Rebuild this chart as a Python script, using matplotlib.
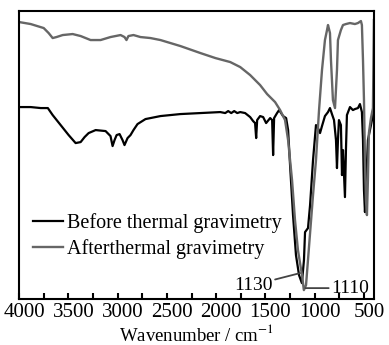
import matplotlib.pyplot as plt
from matplotlib.ticker import MultipleLocator
from matplotlib.transforms import ScaledTranslation

# wavenumber (cm-1) and transmittance (arbitrary units)
before_wn = [4000, 3882, 3780, 3708, 3659, 3578, 3497, 3426, 3375, 3335, 3294, 3223, 3122,
             3072, 3051, 3031, 3010, 2980, 2950, 2930, 2899, 2869, 2839, 2798, 2717, 2565,
             2363, 2160, 1958, 1908, 1878, 1847, 1817, 1786, 1756, 1706, 1655, 1625, 1605,
             1594, 1584, 1554, 1523, 1493, 1452, 1432, 1422, 1412, 1382, 1361, 1341, 1321,
             1290, 1270, 1250, 1220, 1190, 1159, 1130, 1109, 1098, 1068, 1047, 1017, 987,
             967, 946, 926, 896, 865, 845, 825, 804, 784, 774, 764, 754, 734, 723, 713, 693,
             683, 673, 642, 612, 592, 561, 541, 521, 510, 500, 490, 480, 460, 429, 399]
before_t = [192, 192, 191, 191, 184, 174, 164, 156, 157, 162, 166, 169, 168,
            163, 153, 159, 164, 165, 159, 154, 161, 164, 169, 175, 180, 183,
            185, 186, 187, 186, 188, 186, 188, 186, 187, 186, 182, 178, 176,
            161, 179, 183, 182, 176, 181, 179, 144, 181, 186, 189, 186, 183,
            181, 169, 134, 84, 44, 24, 16, 39, 67, 71, 94, 139, 174,
            171, 166, 173, 183, 187, 191, 185, 179, 159, 131, 159, 179, 174, 124, 149, 102,
            149, 184, 192, 189, 190, 191, 195, 187, 159, 109, 87, 109, 159, 174, 189]

after_wn = [4000, 3882, 3750, 3700, 3659, 3620, 3557, 3456, 3375, 3274, 3173, 3072, 2970,
            2930, 2910, 2890, 2839, 2768, 2667, 2565, 2464, 2363, 2160, 2008, 1857, 1756,
            1655, 1554, 1483, 1402, 1351, 1301, 1270, 1230, 1200, 1170, 1129, 1110, 1088,
            1047, 1017, 987, 956, 926, 896, 875, 865, 845, 835, 815, 794, 774, 764, 734,
            713, 683, 642, 592, 561, 531, 521, 510, 500, 490, 480, 470, 460, 450, 429, 419,
            409, 399]
after_t = [277, 275, 271, 266, 261, 262, 264, 265, 263, 259, 259, 262, 264,
           262, 259, 263, 264, 262, 261, 259, 256, 253, 246, 241, 237, 232,
           224, 214, 205, 197, 189, 179, 159, 119, 79, 49, 24, 9, 14,
           66, 104, 139, 189, 229, 259, 269, 274, 266, 239, 199, 191, 229, 259, 269,
           274, 275, 276, 275, 276, 278, 274, 239, 199, 139, 99, 84, 119, 166, 181, 186,
           191, 279]

labels = ["Before thermal gravimetry", "Afterthermal gravimetry"]

plt.rcParams['font.family'] = ['Liberation Serif', 'DejaVu Serif']
plt.rcParams['mathtext.fontset'] = 'stix'

fig = plt.figure(figsize=(3.89, 3.45), dpi=100)
ax = fig.add_axes([0.049, 0.133, 0.912, 0.835])

ax.plot(before_wn, before_t, color='black', lw=1.6, label=labels[0])
ax.plot(after_wn, after_t, color='#666666', lw=1.7, label=labels[1])

ax.set_xlim(4000, 400)
ax.set_ylim(0, 288)
ax.xaxis.set_major_locator(MultipleLocator(500))
ax.xaxis.set_minor_locator(MultipleLocator(250))
ax.tick_params(axis='x', which='both', direction='in', length=4, width=1.5,
               labelsize=15, pad=3, top=False)
ax.set_yticks([])
for s in ax.spines.values():
    s.set_linewidth(1.5)

# tick labels sit a few pixels right of their ticks in the original
shift = ScaledTranslation(0.05, 0, fig.dpi_scale_trans)
for lab in ax.get_xticklabels():
    lab.set_transform(lab.get_transform() + shift)

ax.set_xlabel("Wavenumber / cm$^{-1}$", fontsize=13.5, labelpad=1)

ax.legend(loc='lower left', bbox_to_anchor=(0.0, 0.09), frameon=False, fontsize=14.5,
          handlelength=1.5, handletextpad=0.2, labelspacing=0.3, borderaxespad=0.3)

ax.annotate("1130", xy=(1149, 26), xytext=(1430, 14), fontsize=14,
            ha='right', va='center',
            arrowprops=dict(arrowstyle='-', color='#444444', lw=1.3, shrinkA=0, shrinkB=0))
ax.annotate("1110", xy=(1095, 11), xytext=(830, 11), fontsize=14,
            ha='left', va='center',
            arrowprops=dict(arrowstyle='-', color='#444444', lw=1.3, shrinkA=0, shrinkB=0))

plt.savefig("out.png", dpi=100)
